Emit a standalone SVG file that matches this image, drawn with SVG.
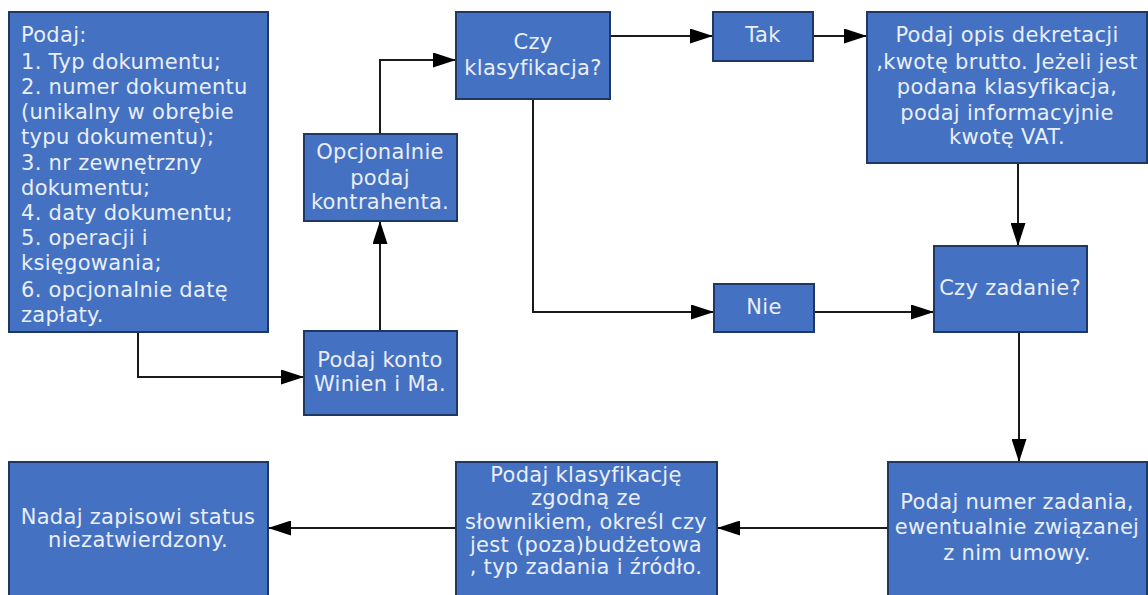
<svg xmlns="http://www.w3.org/2000/svg" width="1148" height="595" viewBox="0 0 1148 595">
<style>
.box{fill:#4471c1;stroke:#1f3763;stroke-width:2}
.t{font-family:"DejaVu Sans",Verdana,sans-serif;font-size:21px;letter-spacing:0.3px;fill:#e9eef8;text-anchor:middle}
.tl{font-family:"DejaVu Sans",Verdana,sans-serif;font-size:21px;letter-spacing:0.3px;fill:#e9eef8;text-anchor:start}
.c{fill:none;stroke:#1a1a1a;stroke-width:2}
</style>
<defs>
<marker id="ah" markerUnits="userSpaceOnUse" markerWidth="23" markerHeight="15" refX="22" refY="7.5" orient="auto">
<path d="M0,0 L23,7.5 L0,15 z" fill="#000"/>
</marker>
</defs>
<rect width="1148" height="595" fill="#ffffff"/>
<g id="connectors">
<path class="c" d="M138 332 V377 H303" marker-end="url(#ah)"/>
<path class="c" d="M380 331 V222" marker-end="url(#ah)"/>
<path class="c" d="M380 134 V60 H455" marker-end="url(#ah)"/>
<path class="c" d="M610 36 H712" marker-end="url(#ah)"/>
<path class="c" d="M813 36 H866" marker-end="url(#ah)"/>
<path class="c" d="M533 99 V312 H713" marker-end="url(#ah)"/>
<path class="c" d="M814 312 H933" marker-end="url(#ah)"/>
<path class="c" d="M1018 163 V245" marker-end="url(#ah)"/>
<path class="c" d="M1019 332 V461" marker-end="url(#ah)"/>
<path class="c" d="M888 528 H718" marker-end="url(#ah)"/>
<path class="c" d="M456 528 H269" marker-end="url(#ah)"/>
</g>
<g id="node-podaj">
<rect class="box" x="9" y="12" width="259" height="320"/>
<text class="tl"><tspan x="21" y="42">Podaj:</tspan><tspan x="21" y="69">1. Typ dokumentu;</tspan><tspan x="21" y="94">2. numer dokumentu</tspan><tspan x="21" y="119">(unikalny w obrębie</tspan><tspan x="21" y="144">typu dokumentu);</tspan><tspan x="21" y="170">3. nr zewnętrzny</tspan><tspan x="21" y="195">dokumentu;</tspan><tspan x="21" y="220">4. daty dokumentu;</tspan><tspan x="21" y="245">5. operacji i</tspan><tspan x="21" y="270">księgowania;</tspan><tspan x="21" y="297">6. opcjonalnie datę</tspan><tspan x="21" y="322">zapłaty.</tspan></text>
</g>
<g id="node-kontrahent">
<rect class="box" x="304" y="134" width="153" height="87"/>
<text class="t"><tspan x="380" y="159">Opcjonalnie</tspan><tspan x="380" y="185">podaj</tspan><tspan x="380" y="209">kontrahenta.</tspan></text>
</g>
<g id="node-konto">
<rect class="box" x="304" y="331" width="153" height="84"/>
<text class="t"><tspan x="380" y="367">Podaj konto</tspan><tspan x="380" y="391">Winien i Ma.</tspan></text>
</g>
<g id="node-czy-klasyfikacja">
<rect class="box" x="456" y="12" width="154" height="87"/>
<text class="t"><tspan x="533" y="49">Czy</tspan><tspan x="533" y="75">klasyfikacja?</tspan></text>
</g>
<g id="node-tak">
<rect class="box" x="713" y="12" width="100" height="49"/>
<text class="t" x="763" y="42">Tak</text>
</g>
<g id="node-nie">
<rect class="box" x="714" y="284" width="100" height="48"/>
<text class="t" x="764" y="314">Nie</text>
</g>
<g id="node-opis">
<rect class="box" x="867" y="12" width="280" height="151"/>
<text class="t"><tspan x="1007" y="42">Podaj opis dekretacji</tspan><tspan x="1007" y="69">,kwotę brutto. Jeżeli jest</tspan><tspan x="1007" y="94">podana klasyfikacja,</tspan><tspan x="1007" y="120">podaj informacyjnie</tspan><tspan x="1007" y="144">kwotę VAT.</tspan></text>
</g>
<g id="node-czy-zadanie">
<rect class="box" x="934" y="246" width="153" height="86"/>
<text class="t" x="1010" y="295">Czy zadanie?</text>
</g>
<g id="node-numer">
<rect class="box" x="888" y="462" width="259" height="140"/>
<text class="t"><tspan x="1017" y="509">Podaj numer zadania,</tspan><tspan x="1017" y="534">ewentualnie związanej</tspan><tspan x="1017" y="560">z nim umowy.</tspan></text>
</g>
<g id="node-klasyfikacja">
<rect class="box" x="456" y="462" width="261" height="140"/>
<text class="t"><tspan x="586" y="482">Podaj klasyfikację</tspan><tspan x="586" y="505">zgodną ze</tspan><tspan x="586" y="529">słownikiem, określ czy</tspan><tspan x="586" y="552">jest (poza)budżetowa</tspan><tspan x="586" y="574">, typ zadania i źródło.</tspan></text>
</g>
<g id="node-status">
<rect class="box" x="9" y="462" width="259" height="140"/>
<text class="t"><tspan x="138" y="524">Nadaj zapisowi status</tspan><tspan x="138" y="547">niezatwierdzony.</tspan></text>
</g>
</svg>
